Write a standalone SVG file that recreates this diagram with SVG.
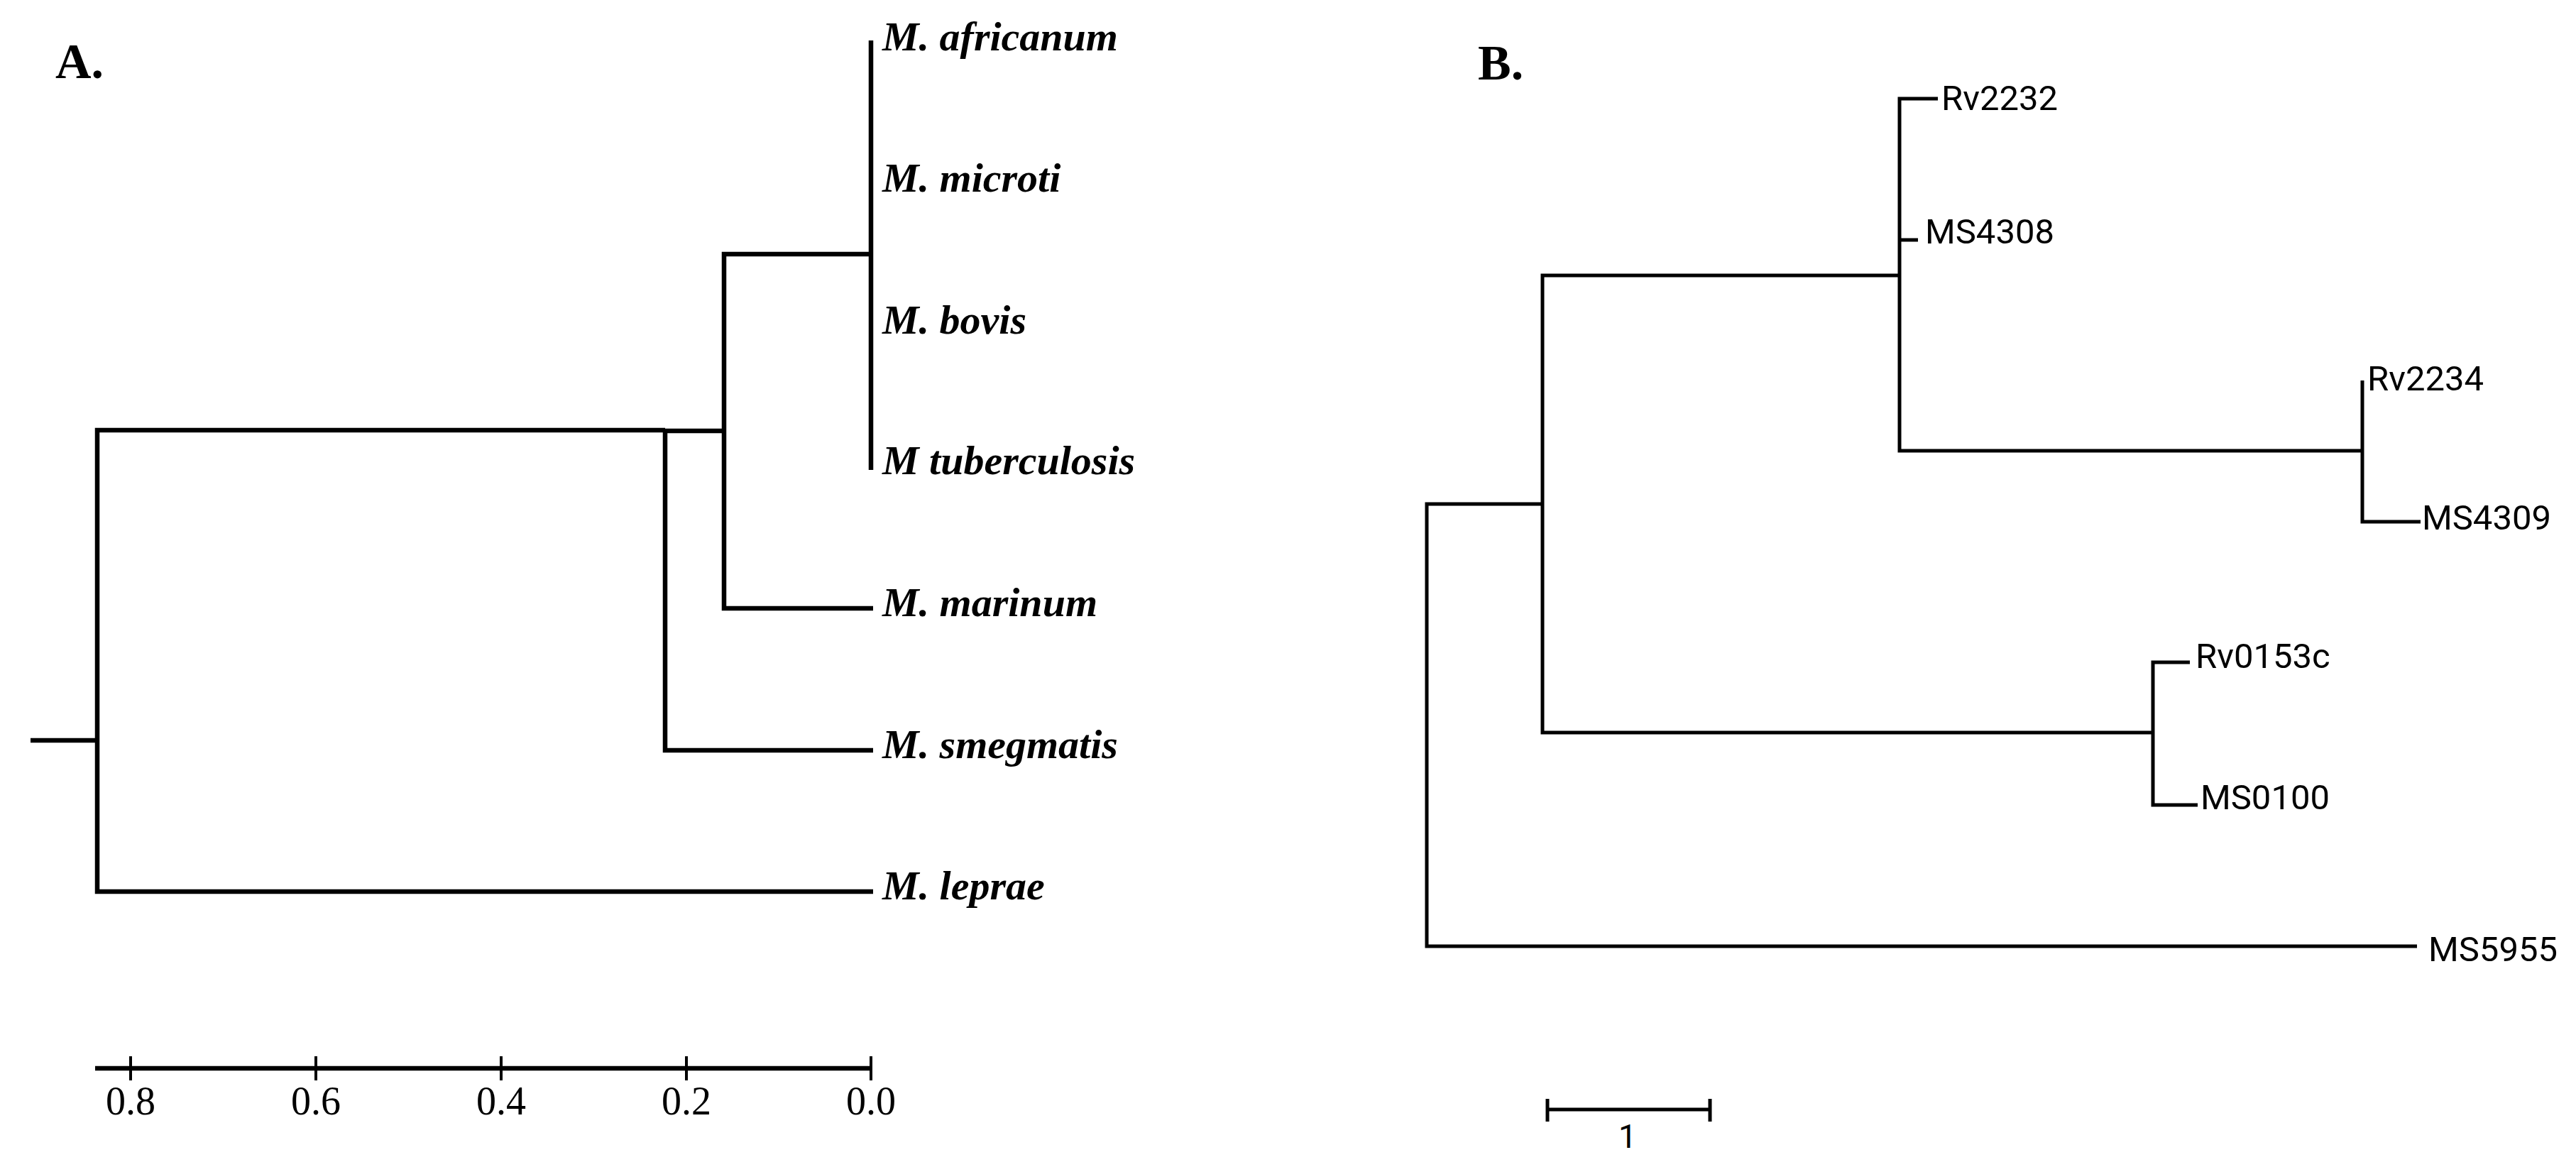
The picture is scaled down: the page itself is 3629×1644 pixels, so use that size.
<svg xmlns="http://www.w3.org/2000/svg" width="3629" height="1644" viewBox="0 0 3629 1644">
<style>
.bg{fill:#ffffff}
.la{fill:none;stroke:#000;stroke-width:6.5;stroke-linejoin:miter;stroke-linecap:butt}
.lb{fill:none;stroke:#000;stroke-width:5;stroke-linejoin:miter;stroke-linecap:butt}
.tick{fill:none;stroke:#000;stroke-width:4}
.panel{font-family:"Liberation Serif","Times New Roman",serif;font-weight:bold;font-size:70px;fill:#000}
.sp{font-family:"Liberation Serif","Times New Roman",serif;font-weight:bold;font-style:italic;font-size:58px;fill:#000}
.ax{font-family:"Liberation Serif","Times New Roman",serif;font-size:56px;fill:#000;text-anchor:middle}
.gn{font-family:Roboto,"Liberation Sans",Arial,sans-serif;font-size:49px;fill:#000}
.sc{font-family:Roboto,"Liberation Sans",Arial,sans-serif;font-size:46px;fill:#000;text-anchor:middle}
</style>
<rect class="bg" x="0" y="0" width="3629" height="1644"/>
<text class="panel" x="78" y="110">A.</text>
<text class="panel" x="2082" y="112">B.</text>

<g id="connectors">
  <g id="treeA">
    <path class="la" d="M43,1043 H137"/>
    <path class="la" d="M937,606 H137 V1256 H1230"/>
    <path class="la" d="M1020,607 H937 V1057 H1230"/>
    <path class="la" d="M1227,358 H1020 V857 H1230"/>
    <path class="la" d="M1227,57 V662"/>
  </g>
  <g id="treeB">
    <path class="lb" d="M2173,710 H2010 V1333 H3405"/>
    <path class="lb" d="M2676,388 H2173 V1032 H3033"/>
    <path class="lb" d="M2730,139 H2676 V635 H3328"/>
    <path class="lb" d="M2676,338 H2702"/>
    <path class="lb" d="M3328,536 V735 H3410"/>
    <path class="lb" d="M3085,933 H3033 V1134 H3096"/>
  </g>
</g>

<g id="axisA">
  <path class="la" d="M134,1505 H1227"/>
  <path class="tick" d="M184,1488 V1522 M445,1488 V1522 M706,1488 V1522 M967,1488 V1522 M1227,1488 V1522"/>
  <text class="ax" x="184" y="1570">0.8</text>
  <text class="ax" x="445" y="1570">0.6</text>
  <text class="ax" x="706" y="1570">0.4</text>
  <text class="ax" x="967" y="1570">0.2</text>
  <text class="ax" x="1227" y="1570">0.0</text>
</g>

<g id="scaleB">
  <path class="lb" d="M2180,1563 H2409"/>
  <path class="lb" d="M2180,1548 V1580 M2409,1548 V1580"/>
  <text class="sc" x="2293" y="1617">1</text>
</g>

<g id="node-africanum"><text class="sp" x="1243" y="71">M. africanum</text></g>
<g id="node-microti"><text class="sp" x="1243" y="270">M. microti</text></g>
<g id="node-bovis"><text class="sp" x="1243" y="470">M. bovis</text></g>
<g id="node-tuberculosis"><text class="sp" x="1243" y="668">M tuberculosis</text></g>
<g id="node-marinum"><text class="sp" x="1243" y="868">M. marinum</text></g>
<g id="node-smegmatis"><text class="sp" x="1243" y="1068">M. smegmatis</text></g>
<g id="node-leprae"><text class="sp" x="1243" y="1267">M. leprae</text></g>

<g id="node-Rv2232"><text class="gn" x="2735" y="155">Rv2232</text></g>
<g id="node-MS4308"><text class="gn" x="2712" y="343">MS4308</text></g>
<g id="node-Rv2234"><text class="gn" x="3335" y="550">Rv2234</text></g>
<g id="node-MS4309"><text class="gn" x="3412" y="746">MS4309</text></g>
<g id="node-Rv0153c"><text class="gn" x="3093" y="941">Rv0153c</text></g>
<g id="node-MS0100"><text class="gn" x="3100" y="1140">MS0100</text></g>
<g id="node-MS5955"><text class="gn" x="3421" y="1354">MS5955</text></g>
</svg>
